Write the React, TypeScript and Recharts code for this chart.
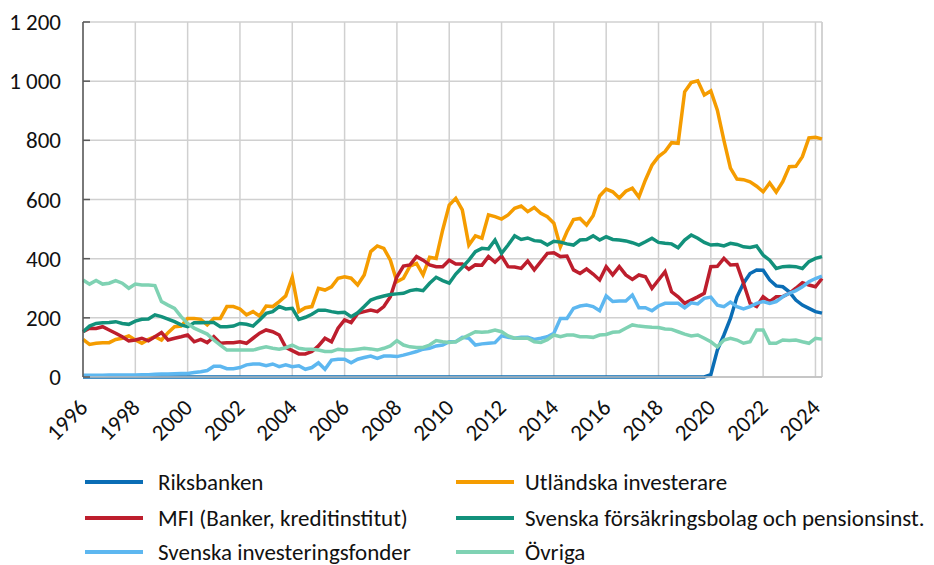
import React from 'react';
import { LineChart, Line, XAxis, YAxis, CartesianGrid, ReferenceLine } from 'recharts';

const FONT = 'Carlito, Calibri, Lato, sans-serif';
const FS = 23;

const years = [1996, 1997, 1998, 1999, 2000, 2001, 2002, 2003, 2004, 2005, 2006, 2007, 2008, 2009, 2010,
  2011, 2012, 2013, 2014, 2015, 2016, 2017, 2018, 2019, 2020, 2021, 2022, 2023, 2024];
const quarters = ['Q1', 'Q2', 'Q3', 'Q4'];
const categories = years.flatMap((y) => quarters.map((q) => `${y} ${q}`)).slice(0, 114);
const tickYears = [1996, 1998, 2000, 2002, 2004, 2006, 2008, 2010, 2012, 2014, 2016, 2018, 2020, 2022, 2024];
const tickCats = tickYears.map((y) => `${y} Q1`);
const yTicks = [0, 200, 400, 600, 800, 1000, 1200];

const riksbanken = [
  0, 0, 0, 0, 0, 0, 0, 0, 0, 0, 0, 0, 0, 0, 0, 0,
  0, 0, 0, 0, 0, 0, 0, 0, 0, 0, 0, 0, 0, 0, 0, 0,
  0, 0, 0, 0, 0, 0, 0, 0, 0, 0, 0, 0, 0, 0, 0, 0,
  0, 0, 0, 0, 0, 0, 0, 0, 0, 0, 0, 0, 0, 0, 0, 0,
  0, 0, 0, 0, 0, 0, 0, 0, 0, 0, 0, 0, 0, 0, 0, 0,
  0, 0, 0, 0, 0, 0, 0, 0, 0, 0, 0, 0, 0, 0, 0, 0,
  8, 91, 142, 198,
  271, 317, 350, 362,
  361, 328, 308, 305,
  288, 260, 243, 232,
  221, 216,
];

const utlandska = [
  127, 110, 114, 116,
  116, 127, 131, 139,
  125, 114, 127, 136,
  125, 150, 170, 172,
  198, 198, 195, 176,
  198, 198, 238, 238,
  230, 210, 221, 206,
  240, 238, 255, 274,
  337, 221, 234, 238,
  300, 294, 305, 334,
  339, 334, 311, 345,
  424, 443, 435, 395,
  322, 334, 375, 384,
  345, 405, 401, 497,
  581, 604, 565, 446,
  477, 469, 548, 542,
  534, 548, 570, 578,
  559, 573, 553, 542,
  520, 440, 491, 532,
  536, 514, 545, 612,
  635, 626, 605, 628,
  638, 608, 666, 716,
  745, 762, 792, 790,
  964, 995, 1001, 953,
  967, 902, 800, 706,
  669, 667, 660, 645,
  626, 656, 625, 660,
  711, 712, 745, 808,
  810, 805,
];

const mfi = [
  153, 165, 164, 170,
  159, 148, 136, 122,
  125, 131, 122, 136,
  150, 125, 131, 136,
  142, 119, 127, 116,
  136, 114, 116, 116,
  119, 114, 131, 148,
  159, 153, 142, 100,
  89, 78, 78, 86,
  105, 131, 119, 165,
  193, 184, 215, 221,
  226, 221, 238, 271,
  339, 375, 379, 407,
  395, 379, 373, 373,
  395, 382, 382, 364,
  379, 378, 407, 388,
  409, 373, 372, 367,
  392, 362, 390, 418,
  420, 407, 409, 362,
  350, 365, 348, 328,
  373, 345, 373, 345,
  330, 345, 339, 300,
  328, 356, 288, 271,
  249, 260, 271, 283,
  373, 374, 401, 379,
  380, 317, 249, 238,
  271, 255, 271, 272,
  283, 300, 319, 311,
  305, 333,
];

const forsakring = [
  153, 172, 181, 183,
  184, 187, 181, 178,
  189, 195, 196, 210,
  204, 196, 187, 176,
  170, 183, 183, 184,
  184, 170, 170, 172,
  181, 178, 172, 193,
  215, 221, 238, 230,
  232, 195, 202, 212,
  226, 226, 221, 217,
  219, 204, 217, 238,
  260, 268, 274, 279,
  281, 283, 292, 296,
  292, 317, 337, 326,
  317, 348, 371, 395,
  424, 435, 433, 463,
  418, 446, 477, 465,
  470, 461, 459, 446,
  459, 456, 450, 446,
  463, 465, 477, 463,
  474, 465, 463, 460,
  454, 446, 457, 469,
  455, 452, 450, 437,
  463, 480, 469, 455,
  446, 448, 443, 452,
  448, 440, 438, 443,
  412, 395, 367, 373,
  374, 373, 367, 390,
  401, 407,
];

const fonder = [
  6, 6, 6, 6,
  7, 7, 7, 7,
  7, 8, 8, 9,
  10, 10, 11, 12,
  12, 15, 18, 22,
  36, 36, 28, 28,
  32, 41, 44, 44,
  38, 44, 35, 41,
  35, 38, 26, 32,
  48, 26, 57, 60,
  60, 48, 60, 66,
  71, 63, 71, 71,
  69, 74, 80, 86,
  94, 97, 105, 108,
  119, 119, 134, 131,
  108, 112, 114, 116,
  139, 134, 131, 134,
  134, 127, 131, 136,
  148, 198, 198, 232,
  240, 243, 238, 224,
  274, 255, 257, 257,
  277, 234, 234, 224,
  240, 249, 249, 249,
  234, 251, 247, 266,
  270, 243, 238, 253,
  238, 230, 238, 249,
  255, 249, 255, 271,
  283, 292, 305, 322,
  333, 341,
];

const ovriga = [
  328, 314, 326, 314,
  317, 326, 317, 300,
  314, 311, 311, 309,
  255, 243, 232, 204,
  181, 165, 155, 145,
  125, 108, 91, 91,
  91, 91, 91, 97,
  102, 97, 94, 99,
  108, 97, 94, 94,
  91, 86, 86, 94,
  91, 91, 94, 97,
  95, 91, 97, 105,
  123, 108, 102, 100,
  100, 108, 123, 119,
  117, 119, 131, 142,
  153, 151, 153, 159,
  153, 139, 131, 131,
  131, 119, 117, 126,
  142, 136, 142, 142,
  136, 136, 134, 142,
  144, 151, 153, 165,
  176, 172, 170, 168,
  167, 162, 161, 153,
  145, 139, 142, 131,
  119, 102, 125, 131,
  125, 114, 119, 159,
  159, 114, 114, 125,
  123, 125, 119, 114,
  131, 128,
];

const series = [
  { key: 'riksbanken', name: 'Riksbanken', color: '#0a6db5', values: riksbanken },
  { key: 'utlandska', name: 'Utländska investerare', color: '#f59c00', values: utlandska },
  { key: 'mfi', name: 'MFI (Banker, kreditinstitut)', color: '#bd1e2d', values: mfi },
  { key: 'forsakring', name: 'Svenska försäkringsbolag och pensionsinst.', color: '#12917b', values: forsakring },
  { key: 'fonder', name: 'Svenska investeringsfonder', color: '#5db7f0', values: fonder },
  { key: 'ovriga', name: 'Övriga', color: '#7fd2b3', values: ovriga },
];

const data = categories.map((c, i) => {
  const row: Record<string, string | number> = { period: c };
  series.forEach((s) => {
    row[s.key] = s.values[i];
  });
  return row;
});

const fmt = (v: number) => {
  if (v >= 1000) {
    return `${Math.floor(v / 1000)} ${String(v % 1000).padStart(3, '0')}`;
  }
  return String(v);
};

const YTick = (props: any) => {
  const { x, y, payload } = props;
  return (
    <g>
      <line x1={x + 22} x2={x + 29} y1={y} y2={y} stroke="#595959" strokeWidth={1.5} />
      <text x={x} y={y} dy="0.35em" textAnchor="end" fontSize={FS} fontFamily={FONT} fill="#111">
        {fmt(payload.value)}
      </text>
    </g>
  );
};

const XTick = (props: any) => {
  const { x, y, payload } = props;
  const ax = x + 6;
  const ay = y + 24;
  return (
    <text
      x={ax}
      y={ay}
      textAnchor="end"
      transform={`rotate(-45, ${ax}, ${ay})`}
      fontSize={FS}
      fontFamily={FONT}
      fill="#111"
    >
      {String(payload.value).slice(0, 4)}
    </text>
  );
};

const legendLayout = [
  { idx: 0, col: 0, row: 0 },
  { idx: 1, col: 1, row: 0 },
  { idx: 2, col: 0, row: 1 },
  { idx: 3, col: 1, row: 1 },
  { idx: 4, col: 0, row: 2 },
  { idx: 5, col: 1, row: 2 },
];
const colMarker = [85, 456];
const colText = [158, 525];
const rowY = [482, 518, 552];

export default function App() {
  return (
    <div style={{ position: 'absolute', left: 0, top: 0, width: 934, height: 565, overflow: 'hidden', background: '#fff' }}>
      <LineChart width={934} height={565} data={data} margin={{ top: 22, right: 112, left: 0, bottom: 0 }}>
        <CartesianGrid stroke="#d0d0d0" strokeWidth={1.5} />
        <XAxis
          dataKey="period"
          ticks={tickCats}
          interval={0}
          tick={<XTick />}
          tickLine={false}
          axisLine={{ stroke: '#bfbfbf', strokeWidth: 1.5 }}
          height={188}
        />
        <YAxis
          domain={[0, 1200]}
          ticks={yTicks}
          width={83}
          tickMargin={16}
          tick={<YTick />}
          tickLine={false}
          axisLine={{ stroke: '#595959', strokeWidth: 1.5 }}
          interval={0}
        />
        <ReferenceLine x={categories[categories.length - 1]} stroke="#d0d0d0" strokeWidth={1.5} />
        {series.map((s) => (
          <Line
            key={s.key}
            type="linear"
            dataKey={s.key}
            name={s.name}
            stroke={s.color}
            strokeWidth={3.5}
            dot={false}
            isAnimationActive={false}
          />
        ))}
      </LineChart>
      {legendLayout.map((l) => {
        const s = series[l.idx];
        return (
          <React.Fragment key={s.key}>
            <div
              style={{
                position: 'absolute',
                left: colMarker[l.col],
                top: rowY[l.row] - 2,
                width: 58,
                height: 4,
                background: s.color,
              }}
            />
            <div
              style={{
                position: 'absolute',
                left: colText[l.col],
                top: rowY[l.row] - 12,
                height: 24,
                lineHeight: '24px',
                fontSize: FS,
                fontFamily: FONT,
                color: '#111',
                whiteSpace: 'nowrap',
              }}
            >
              {s.name}
            </div>
          </React.Fragment>
        );
      })}
    </div>
  );
}
